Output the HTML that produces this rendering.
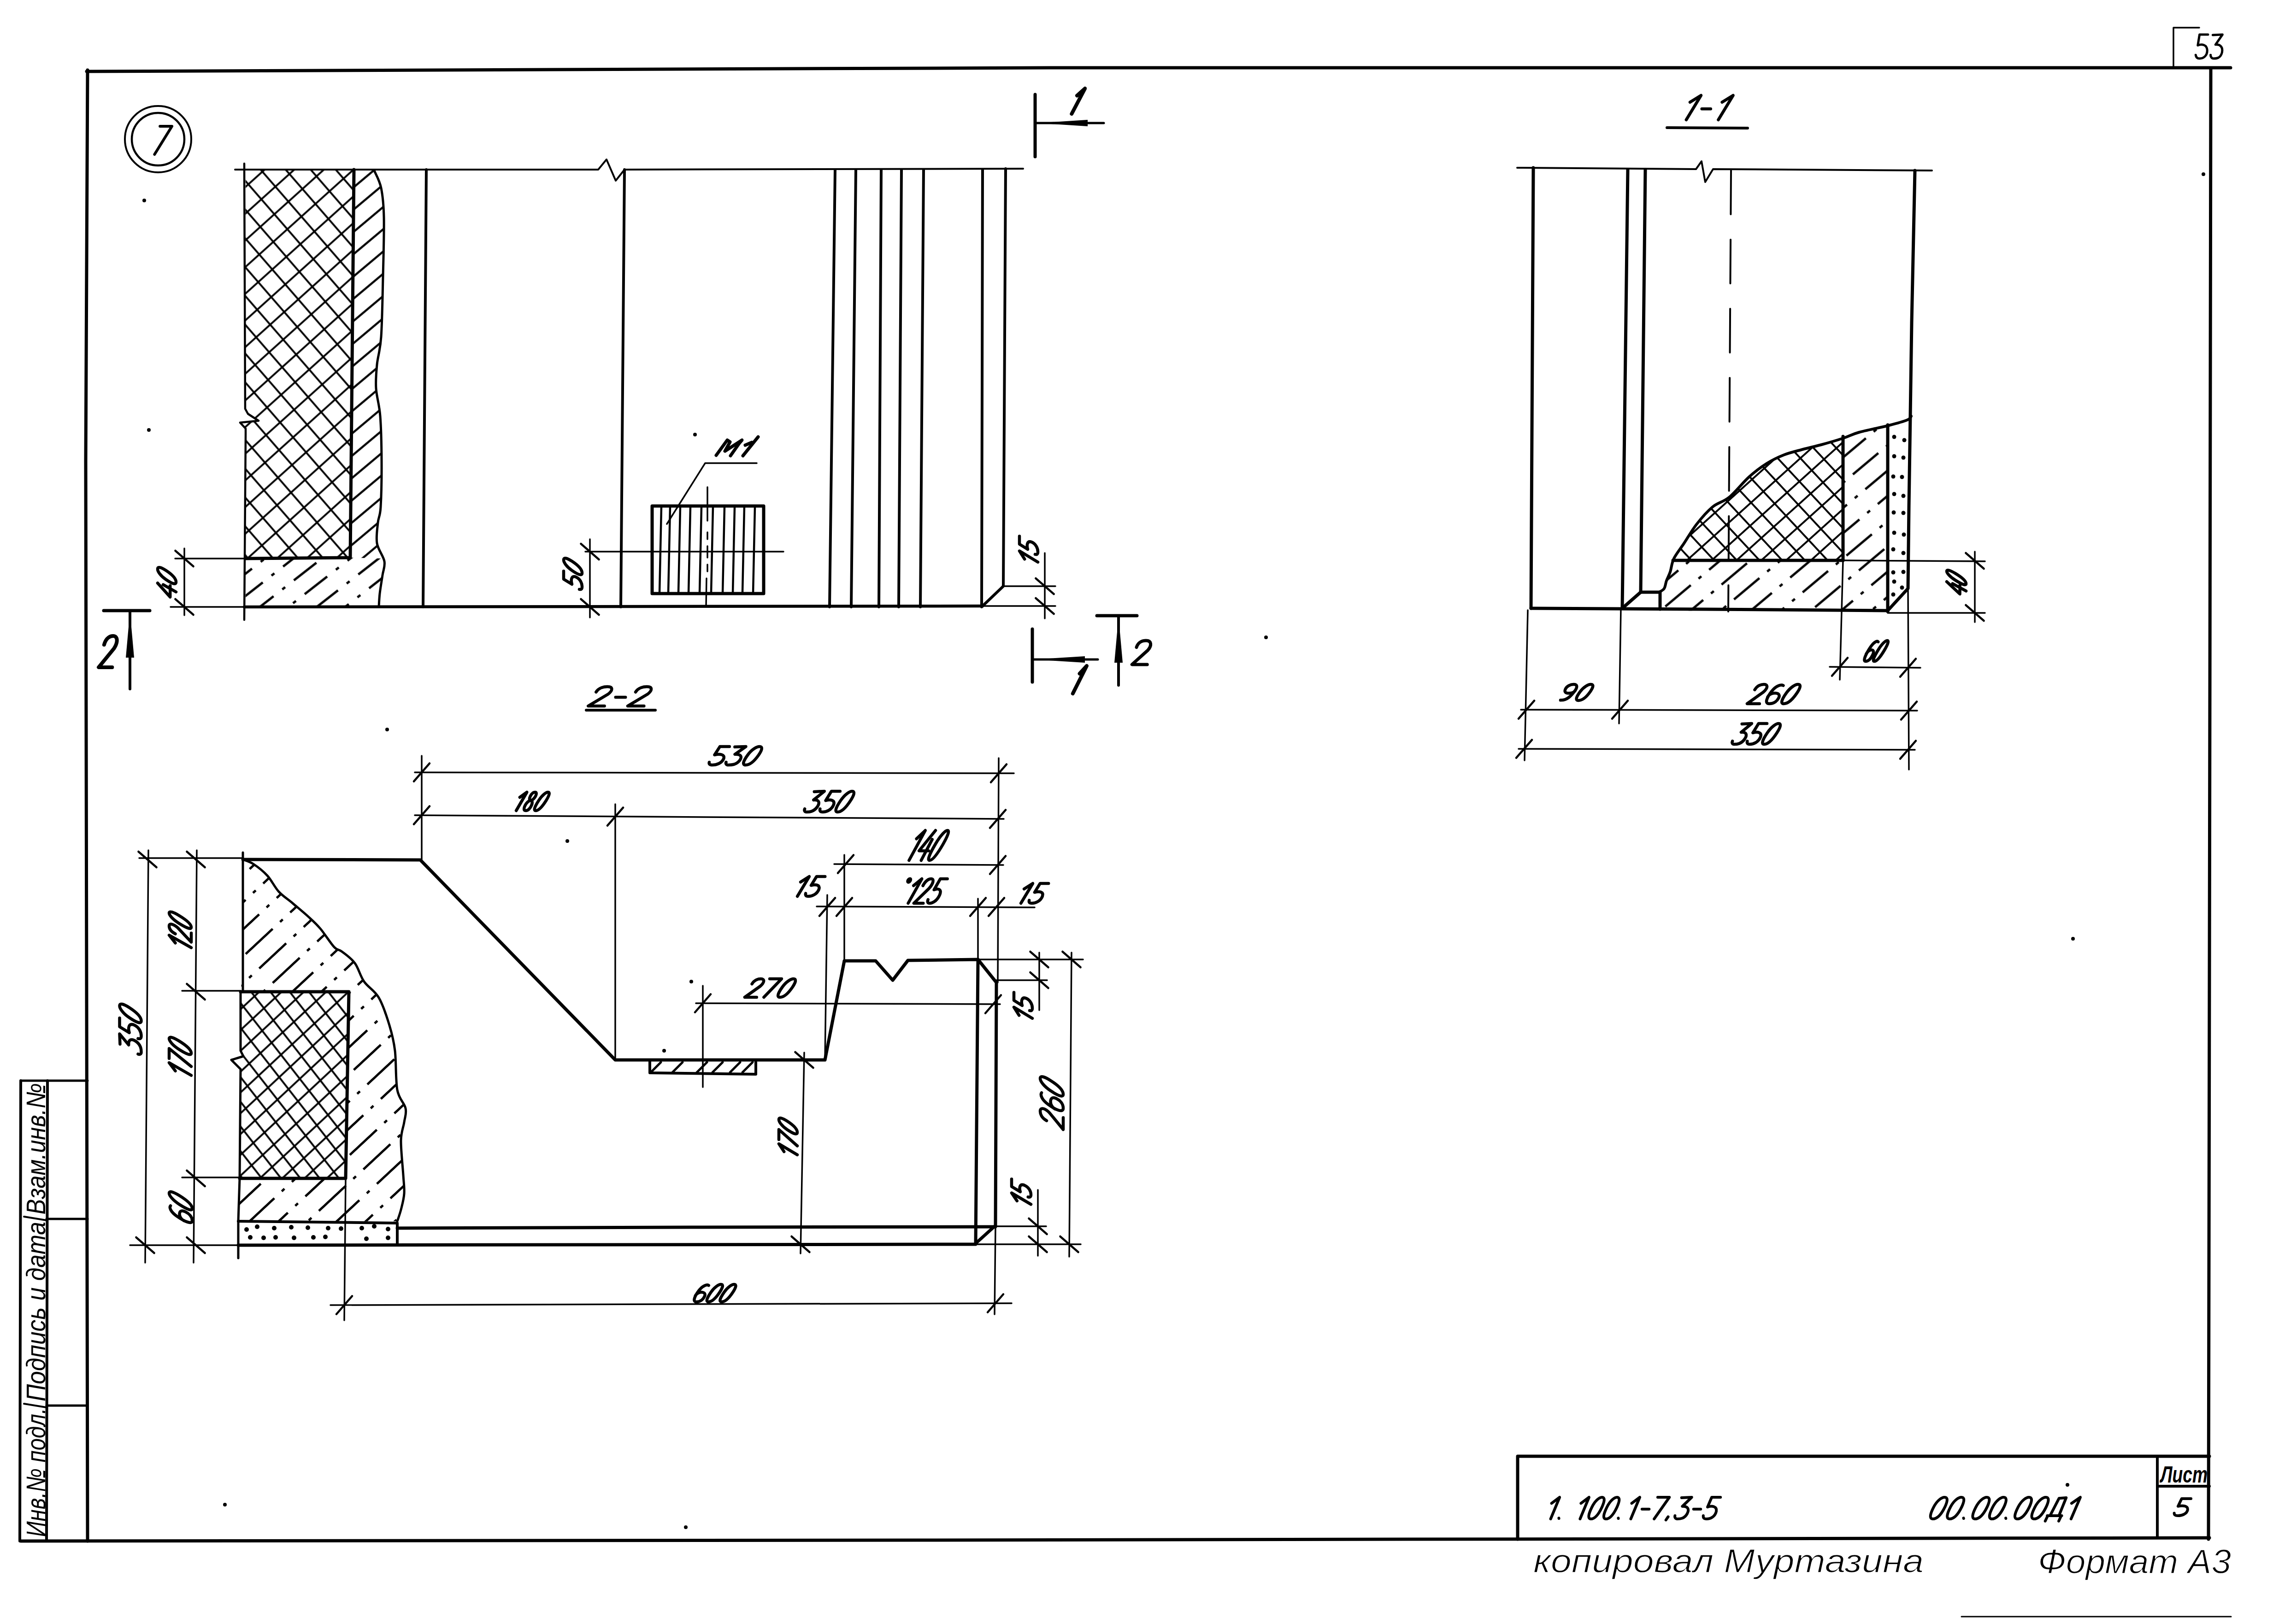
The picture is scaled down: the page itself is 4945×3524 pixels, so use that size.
<!DOCTYPE html>
<html><head><meta charset="utf-8"><style>
html,body{margin:0;padding:0;background:#fff;width:4945px;height:3524px;overflow:hidden}
svg{display:block}
.it{font-family:"Liberation Sans",sans-serif;font-style:italic;fill:#000;stroke:none}
.rg{font-family:"Liberation Sans",sans-serif;fill:#000;stroke:none}
</style></head><body>
<svg width="4945" height="3524" viewBox="0 0 4945 3524">
<rect width="4945" height="3524" fill="#fff"/>
<defs><clipPath id="c1"><polygon points="533,368 768,368 760,1210 533,1212 533,941 533,930 521,917 561,913 538,898 532,887"/></clipPath><clipPath id="c2"><polygon points="768,368 812,370 827,408 833,472 831,602 827,731 818,791 816,843 825,903 828,1000 826,1100 820,1134 818,1179 833,1212 760,1210"/></clipPath><clipPath id="c2b"><polygon points="533,1212 760,1210 833,1212 834,1218 830,1248 824,1288 822,1317 533,1317"/></clipPath><clipPath id="c3"><polygon points="522,2152 757,2152 750,2557 520,2557 522,2320 502,2300 528,2292 522,2280"/></clipPath><clipPath id="c4"><path clip-rule="evenodd" d="M527,1865 L550,1875 L580,1900 L605,1935 L635,1960 L670,1990 L695,2015 L725,2055 L742,2065 L770,2090 L790,2130 L822,2165 L845,2225 L857,2280 L862,2365 L880,2405 L877,2435 L870,2475 L875,2550 L877,2590 L870,2625 L862,2650 L517,2650 Z M522,2152 L757,2152 L750,2557 L520,2557 L522,2320 L502,2300 L528,2292 L522,2280 Z"/></clipPath><clipPath id="c5"><polygon points="3632,1212 3654,1179 3681,1138 3716,1100 3752,1079 3795,1035 3833,1006 3871,987 3912,975 3952,965 3999,951 3999,1216 3632,1216"/></clipPath><clipPath id="c6"><polygon points="3999,951 4034,938 4096,923 4096,1327 3602,1325 3600,1285 3611,1277 3616,1260 3624,1241 3632,1212 3632,1216 3999,1216"/></clipPath><pattern id="xh1a" patternUnits="userSpaceOnUse" width="43" height="43" patternTransform="translate(540 370) rotate(-42)"><path d="M0,21.5 L43,21.5" stroke-width="3.8" stroke="#000" fill="none" stroke-linecap="butt"/></pattern><pattern id="xh1b" patternUnits="userSpaceOnUse" width="41" height="41" patternTransform="translate(540 370) rotate(49)"><path d="M0,20.5 L41,20.5" stroke-width="3.8" stroke="#000" fill="none" stroke-linecap="butt"/></pattern><pattern id="h1" patternUnits="userSpaceOnUse" width="37" height="37" patternTransform="translate(770 380) rotate(-40)"><path d="M0,18.5 L37,18.5" stroke-width="4.5" stroke="#000" fill="none" stroke-linecap="butt"/></pattern><pattern id="h4" patternUnits="userSpaceOnUse" width="118" height="38" patternTransform="translate(533 1317) rotate(-38)"><path d="M0,19.0 L62,19.0 M86,19.0 L94,19.0 " stroke-width="5" stroke="#000" fill="none" stroke-linecap="butt"/></pattern><pattern id="xh2a" patternUnits="userSpaceOnUse" width="33" height="33" patternTransform="translate(530 2160) rotate(-43)"><path d="M0,16.5 L33,16.5" stroke-width="3.8" stroke="#000" fill="none" stroke-linecap="butt"/></pattern><pattern id="xh2b" patternUnits="userSpaceOnUse" width="33" height="33" patternTransform="translate(530 2160) rotate(52)"><path d="M0,16.5 L33,16.5" stroke-width="3.8" stroke="#000" fill="none" stroke-linecap="butt"/></pattern><pattern id="h2" patternUnits="userSpaceOnUse" width="132" height="43" patternTransform="translate(527 1870) rotate(-43)"><path d="M0,21.5 L80,21.5 M102,21.5 L110,21.5 " stroke-width="5" stroke="#000" fill="none" stroke-linecap="butt"/></pattern><pattern id="xh3a" patternUnits="userSpaceOnUse" width="36" height="36" patternTransform="translate(3640 1210) rotate(-42)"><path d="M0,18.0 L36,18.0" stroke-width="4" stroke="#000" fill="none" stroke-linecap="butt"/></pattern><pattern id="xh3b" patternUnits="userSpaceOnUse" width="36" height="36" patternTransform="translate(3640 1210) rotate(47)"><path d="M0,18.0 L36,18.0" stroke-width="4" stroke="#000" fill="none" stroke-linecap="butt"/></pattern><pattern id="h3" patternUnits="userSpaceOnUse" width="124" height="42" patternTransform="translate(3600 1300) rotate(-40)"><path d="M0,21.0 L72,21.0 M94,21.0 L102,21.0 " stroke-width="5" stroke="#000" fill="none" stroke-linecap="butt"/></pattern></defs>
<g stroke="#000" stroke-linecap="round" stroke-linejoin="round" fill="none">
<polyline points="188,155 1200,151 2279,147 4840,147" stroke-width="7" fill="none" />
<polyline points="190,152 186,1000 190,3344" stroke-width="7" fill="none" />
<polyline points="4797,150 4795,1500 4792,3340" stroke-width="7" fill="none" />
<polyline points="45,3344 2000,3342 4794,3337" stroke-width="7" fill="none" />
<polyline points="4716,148 4716,60 4772,60" stroke-width="3.5" fill="none" />
<path d="M0.58,0 L0.16,0 L0.1,0.45 C0.3,0.38 0.55,0.42 0.58,0.65 C0.6,0.9 0.4,1 0.22,1 C0.1,1 0.04,0.95 0.02,0.85" transform="matrix(43.7 0 -2.6 52 4765.6 75)" vector-effect="non-scaling-stroke" stroke-width="5"/>
<path d="M0.08,0.02 L0.56,0 L0.24,0.42 C0.5,0.4 0.62,0.55 0.58,0.75 C0.52,1 0.3,1.0 0.18,1 C0.08,1 0.02,0.92 0.02,0.85" transform="matrix(43.7 0 -2.6 52 4797.9 75)" vector-effect="non-scaling-stroke" stroke-width="5"/>
<polyline points="45,2345 190,2345" stroke-width="5" fill="none" />
<polyline points="45,2345 43,3344" stroke-width="6" fill="none" />
<polyline points="103,2345 101,3344" stroke-width="6" fill="none" />
<line x1="101" y1="2645" x2="190" y2="2645" stroke-width="5"/>
<line x1="101" y1="3050" x2="190" y2="3050" stroke-width="5"/>
<text x="-66.5" y="2515" font-size="58" textLength="285" lengthAdjust="spacingAndGlyphs" class="it" transform="rotate(-90 76 2493)">Взам.инв.№</text>
<text x="-119" y="2868" font-size="58" textLength="390" lengthAdjust="spacingAndGlyphs" class="it" transform="rotate(-90 76 2846)">Подпись и дата</text>
<text x="-64" y="3217" font-size="58" textLength="280" lengthAdjust="spacingAndGlyphs" class="it" transform="rotate(-90 76 3195)">Инв.№ подл.</text>
<line x1="52" y1="2640" x2="101" y2="2648" stroke-width="4"/>
<line x1="52" y1="3046" x2="101" y2="3054" stroke-width="4"/>
<circle cx="343" cy="302" r="72" stroke-width="4" fill="none"/>
<circle cx="343" cy="302" r="57" stroke-width="4.5" fill="none"/>
<path d="M0.04,0 L0.6,0 L0.18,1" transform="matrix(46.3 0 -18.3 61 345.3 274)" vector-effect="non-scaling-stroke" stroke-width="6"/>
<polyline points="510,368 1298,368 1316,346 1336,392 1355,368 2220,366" stroke-width="4" fill="none" />
<rect x="500" y="340" width="300" height="900" fill="url(#xh1a)" stroke="none" clip-path="url(#c1)"/>
<rect x="500" y="340" width="300" height="900" fill="url(#xh1b)" stroke="none" clip-path="url(#c1)"/>
<rect x="500" y="340" width="360" height="1000" fill="url(#h1)" stroke="none" clip-path="url(#c2)"/>
<rect x="500" y="1200" width="360" height="130" fill="url(#h4)" stroke="none" clip-path="url(#c2b)"/>
<polyline points="530,355 532,887 538,898 561,913 521,917 533,930 533,941 530,1345" stroke-width="4.5" fill="none" />
<polyline points="768,368 760,1210 533,1212" stroke-width="7" fill="none" />
<path d="M812,370 C814.5,376.3 823.5,391 827,408 C830.5,425 832.3,439.7 833,472 C833.7,504.3 832,558.8 831,602 C830,645.2 829.2,699.5 827,731 C824.8,762.5 819.8,772.3 818,791 C816.2,809.7 814.8,824.3 816,843 C817.2,861.7 823,876.8 825,903 C827,929.2 827.8,967.2 828,1000 C828.2,1032.8 827.3,1077.7 826,1100 C824.7,1122.3 821.3,1120.8 820,1134 C818.7,1147.2 815.7,1165 818,1179 C820.3,1193 832,1206.5 834,1218 C836,1229.5 831.7,1236.3 830,1248 C828.3,1259.7 825.3,1276.5 824,1288 C822.7,1299.5 822.3,1312.2 822,1317" stroke-width="5" fill="none"/>
<line x1="925" y1="368" x2="918" y2="1317" stroke-width="6"/>
<line x1="1355" y1="368" x2="1347" y2="1317" stroke-width="6"/>
<line x1="1812" y1="368" x2="1800" y2="1317" stroke-width="6"/>
<line x1="1857" y1="368" x2="1847" y2="1317" stroke-width="6"/>
<line x1="1912" y1="368" x2="1907" y2="1317" stroke-width="6"/>
<line x1="1956" y1="368" x2="1950" y2="1317" stroke-width="6"/>
<line x1="2004" y1="368" x2="1997" y2="1317" stroke-width="6"/>
<line x1="2132" y1="368" x2="2130" y2="1317" stroke-width="6"/>
<polyline points="2182,366 2177,1272 2132,1315" stroke-width="6" fill="none" />
<polyline points="530,1317 1400,1316 2132,1315" stroke-width="6.5" fill="none" />
<rect x="1415" y="1098" width="242" height="190" stroke-width="7" fill="none"/>
<line x1="1435" y1="1100" x2="1431" y2="1288" stroke-width="4.5"/>
<line x1="1454" y1="1100" x2="1450" y2="1288" stroke-width="4.5"/>
<line x1="1476" y1="1100" x2="1472" y2="1288" stroke-width="4.5"/>
<line x1="1498" y1="1100" x2="1494" y2="1288" stroke-width="4.5"/>
<line x1="1522" y1="1100" x2="1518" y2="1288" stroke-width="4.5"/>
<line x1="1547" y1="1100" x2="1543" y2="1288" stroke-width="4.5"/>
<line x1="1572" y1="1100" x2="1568" y2="1288" stroke-width="4.5"/>
<line x1="1594" y1="1100" x2="1590" y2="1288" stroke-width="4.5"/>
<line x1="1615" y1="1100" x2="1611" y2="1288" stroke-width="4.5"/>
<line x1="1638" y1="1100" x2="1634" y2="1288" stroke-width="4.5"/>
<line x1="1535" y1="1057" x2="1535" y2="1130" stroke-width="3.5"/>
<line x1="1535" y1="1155" x2="1535" y2="1170" stroke-width="3.5"/>
<line x1="1535" y1="1185" x2="1535" y2="1210" stroke-width="3.5"/>
<line x1="1535" y1="1225" x2="1535" y2="1240" stroke-width="3.5"/>
<line x1="1533" y1="1255" x2="1532" y2="1317" stroke-width="3.5"/>
<line x1="1270" y1="1197" x2="1700" y2="1197" stroke-width="3.5"/>
<polyline points="1447,1137 1530,1005 1642,1005" stroke-width="3.5" fill="none" />
<polyline points="1554,988 1578,955 1584,959 1573,979 1610,955 1604,962 1585,989" stroke-width="7" fill="none" />
<polyline points="1612,989 1645,948" stroke-width="7" fill="none" />
<polyline points="1617,966 1631,960" stroke-width="7" fill="none" />
<line x1="400" y1="1190" x2="400" y2="1335" stroke-width="3.5"/>
<line x1="380" y1="1212" x2="533" y2="1212" stroke-width="3.5"/>
<line x1="370" y1="1317" x2="533" y2="1317" stroke-width="3.5"/>
<line x1="380.4" y1="1195" x2="419.6" y2="1229" stroke-width="4.5"/>
<line x1="380.4" y1="1300" x2="419.6" y2="1334" stroke-width="4.5"/>
<g transform="rotate(-90 362 1265)">
<path d="M0.44,0 L0.02,0.68 L0.62,0.68 M0.5,0.3 L0.44,1" transform="matrix(41 0 -19.2 40 343.7 1245)" vector-effect="non-scaling-stroke" stroke-width="6.5"/>
<path d="M0.2,1 C0.02,1 0.02,0.75 0.08,0.45 C0.14,0.15 0.3,0 0.42,0 C0.58,0 0.6,0.2 0.56,0.45 C0.5,0.8 0.38,1 0.2,1 Z" transform="matrix(41 0 -19.2 40 374.9 1245)" vector-effect="non-scaling-stroke" stroke-width="6.5"/>
</g>
<line x1="1280" y1="1170" x2="1280" y2="1340" stroke-width="3.5"/>
<line x1="1260.5" y1="1180" x2="1299.5" y2="1214" stroke-width="4.5"/>
<line x1="1260.5" y1="1300" x2="1299.5" y2="1334" stroke-width="4.5"/>
<g transform="rotate(-90 1243 1245)">
<path d="M0.58,0 L0.16,0 L0.1,0.45 C0.3,0.38 0.55,0.42 0.58,0.65 C0.6,0.9 0.4,1 0.22,1 C0.1,1 0.04,0.95 0.02,0.85" transform="matrix(41.6 0 -19.2 40 1224.7 1225)" vector-effect="non-scaling-stroke" stroke-width="6.5"/>
<path d="M0.2,1 C0.02,1 0.02,0.75 0.08,0.45 C0.14,0.15 0.3,0 0.42,0 C0.58,0 0.6,0.2 0.56,0.45 C0.5,0.8 0.38,1 0.2,1 Z" transform="matrix(41.6 0 -19.2 40 1255.5 1225)" vector-effect="non-scaling-stroke" stroke-width="6.5"/>
</g>
<line x1="2267" y1="1200" x2="2267" y2="1342" stroke-width="3.5"/>
<line x1="2175" y1="1272" x2="2290" y2="1272" stroke-width="3.5"/>
<line x1="2132" y1="1315" x2="2290" y2="1315" stroke-width="3.5"/>
<line x1="2247.4" y1="1255" x2="2286.6" y2="1289" stroke-width="4.5"/>
<line x1="2247.4" y1="1298" x2="2286.6" y2="1332" stroke-width="4.5"/>
<g transform="rotate(-90 2232 1197)">
<path d="M0.12,0.28 L0.42,0 L0.30,1" transform="matrix(41 0 -19.2 40 2216.2 1177)" vector-effect="non-scaling-stroke" stroke-width="6.5"/>
<path d="M0.58,0 L0.16,0 L0.1,0.45 C0.3,0.38 0.55,0.42 0.58,0.65 C0.6,0.9 0.4,1 0.22,1 C0.1,1 0.04,0.95 0.02,0.85" transform="matrix(41 0 -19.2 40 2241.6 1177)" vector-effect="non-scaling-stroke" stroke-width="6.5"/>
</g>
<line x1="2246" y1="205" x2="2246" y2="340" stroke-width="7"/>
<line x1="2246" y1="267" x2="2395" y2="267" stroke-width="5"/>
<polygon points="2250,267 2360,260 2360,274" fill="#000" stroke="none"/>
<path d="M0.12,0.28 L0.42,0 L0.30,1" transform="matrix(34.5 0 -24.8 55 2339.8 192)" vector-effect="non-scaling-stroke" stroke-width="8"/>
<line x1="2240" y1="1365" x2="2240" y2="1480" stroke-width="7"/>
<line x1="2240" y1="1431" x2="2382" y2="1431" stroke-width="5"/>
<polygon points="2244,1431 2354,1424 2354,1438" fill="#000" stroke="none"/>
<path d="M0.12,0.28 L0.42,0 L0.30,1" transform="matrix(26 0 -27 60 2347 1445)" vector-effect="non-scaling-stroke" stroke-width="8"/>
<line x1="2380" y1="1336" x2="2467" y2="1336" stroke-width="7"/>
<line x1="2427" y1="1337" x2="2427" y2="1487" stroke-width="6"/>
<polygon points="2427,1338 2418,1438 2436,1438" fill="#000" stroke="none"/>
<path d="M0.06,0.28 C0.08,0.05 0.25,0 0.36,0 C0.56,0 0.62,0.2 0.5,0.4 L0.02,1 L0.58,1" transform="matrix(59 0 -10.4 52 2465.4 1390)" vector-effect="non-scaling-stroke" stroke-width="7"/>
<line x1="225" y1="1325" x2="325" y2="1325" stroke-width="7"/>
<line x1="282" y1="1325" x2="282" y2="1495" stroke-width="6"/>
<polygon points="282,1327 273,1427 291,1427" fill="#000" stroke="none"/>
<path d="M0.06,0.28 C0.08,0.05 0.25,0 0.36,0 C0.56,0 0.62,0.2 0.5,0.4 L0.02,1 L0.58,1" transform="matrix(52.3 0 -13.6 68 226.6 1380)" vector-effect="non-scaling-stroke" stroke-width="8"/>
<path d="M0.06,0.28 C0.08,0.05 0.25,0 0.36,0 C0.56,0 0.62,0.2 0.5,0.4 L0.02,1 L0.58,1" transform="matrix(63.1 0 -20.2 42 1295.2 1490)" vector-effect="non-scaling-stroke" stroke-width="6.5"/>
<path d="M0.08,0.55 L0.42,0.55" transform="matrix(63.1 0 -20.2 42 1341.8 1490)" vector-effect="non-scaling-stroke" stroke-width="6.5"/>
<path d="M0.06,0.28 C0.08,0.05 0.25,0 0.36,0 C0.56,0 0.62,0.2 0.5,0.4 L0.02,1 L0.58,1" transform="matrix(63.1 0 -20.2 42 1380.9 1490)" vector-effect="non-scaling-stroke" stroke-width="6.5"/>
<line x1="1272" y1="1541" x2="1422" y2="1541" stroke-width="6"/>
<rect x="490" y="2140" width="280" height="430" fill="url(#xh2a)" stroke="none" clip-path="url(#c3)"/>
<rect x="490" y="2140" width="280" height="430" fill="url(#xh2b)" stroke="none" clip-path="url(#c3)"/>
<rect x="500" y="1850" width="400" height="820" fill="url(#h2)" stroke="none" clip-path="url(#c4)"/>
<polyline points="527,1865 912,1866 1335,2300 1790,2300 1832,2085 1900,2085 1937,2127 1970,2084 2122,2082 2162,2132 2160,2662" stroke-width="7" fill="none" />
<path d="M527,1865 C530.8,1866.7 541.2,1869.2 550,1875 C558.8,1880.8 570.8,1890 580,1900 C589.2,1910 595.8,1925 605,1935 C614.2,1945 624.2,1950.8 635,1960 C645.8,1969.2 660,1980.8 670,1990 C680,1999.2 685.8,2004.2 695,2015 C704.2,2025.8 717.2,2046.7 725,2055 C732.8,2063.3 734.5,2059.2 742,2065 C749.5,2070.8 762,2079.2 770,2090 C778,2100.8 781.3,2117.5 790,2130 C798.7,2142.5 812.8,2149.2 822,2165 C831.2,2180.8 839.2,2205.8 845,2225 C850.8,2244.2 854.2,2256.7 857,2280 C859.8,2303.3 858.2,2344.2 862,2365 C865.8,2385.8 877.5,2393.3 880,2405 C882.5,2416.7 878.7,2423.3 877,2435 C875.3,2446.7 870.3,2455.8 870,2475 C869.7,2494.2 873.8,2530.8 875,2550 C876.2,2569.2 877.8,2577.5 877,2590 C876.2,2602.5 872.5,2615 870,2625 C867.5,2635 863.3,2645.8 862,2650" stroke-width="5" fill="none"/>
<polyline points="527,1850 527,2152" stroke-width="5" fill="none" />
<polyline points="522,2152 522,2280 528,2292 502,2300 522,2320 520,2557" stroke-width="5" fill="none" />
<polyline points="522,2152 757,2152 750,2557 520,2557" stroke-width="7" fill="none" />
<polyline points="520,2557 517,2650 517,2730" stroke-width="5" fill="none" />
<polyline points="517,2650 862,2654 862,2702" stroke-width="6" fill="none" />
<polyline points="862,2665 1500,2663 2157,2662" stroke-width="7" fill="none" />
<polyline points="517,2702 1300,2701 2115,2700 2157,2662" stroke-width="7" fill="none" />
<polyline points="2122,2082 2117,2700" stroke-width="7" fill="none" />
<circle cx="535" cy="2668" r="5" fill="#000" stroke="none"/>
<circle cx="558" cy="2662" r="5" fill="#000" stroke="none"/>
<circle cx="595" cy="2665" r="5" fill="#000" stroke="none"/>
<circle cx="632" cy="2663" r="5" fill="#000" stroke="none"/>
<circle cx="668" cy="2664" r="5" fill="#000" stroke="none"/>
<circle cx="712" cy="2665" r="5" fill="#000" stroke="none"/>
<circle cx="740" cy="2666" r="5" fill="#000" stroke="none"/>
<circle cx="785" cy="2665" r="5" fill="#000" stroke="none"/>
<circle cx="812" cy="2661" r="5" fill="#000" stroke="none"/>
<circle cx="842" cy="2667" r="5" fill="#000" stroke="none"/>
<circle cx="543" cy="2685" r="5" fill="#000" stroke="none"/>
<circle cx="572" cy="2686" r="5" fill="#000" stroke="none"/>
<circle cx="598" cy="2685" r="5" fill="#000" stroke="none"/>
<circle cx="638" cy="2686" r="5" fill="#000" stroke="none"/>
<circle cx="680" cy="2685" r="5" fill="#000" stroke="none"/>
<circle cx="706" cy="2684" r="5" fill="#000" stroke="none"/>
<circle cx="795" cy="2688" r="5" fill="#000" stroke="none"/>
<circle cx="842" cy="2686" r="5" fill="#000" stroke="none"/>
<polyline points="1410,2302 1410,2328 1640,2331 1640,2305" stroke-width="6" fill="none" />
<line x1="1412" y1="2327" x2="1434" y2="2305" stroke-width="5"/>
<line x1="1459" y1="2327" x2="1481" y2="2305" stroke-width="5"/>
<line x1="1512" y1="2327" x2="1534" y2="2305" stroke-width="5"/>
<line x1="1546" y1="2327" x2="1568" y2="2305" stroke-width="5"/>
<line x1="1584" y1="2327" x2="1606" y2="2305" stroke-width="5"/>
<line x1="1611" y1="2327" x2="1633" y2="2305" stroke-width="5"/>
<line x1="1525" y1="2139" x2="1525" y2="2359" stroke-width="3.5"/>
<line x1="900" y1="1676" x2="2200" y2="1678" stroke-width="3.5"/>
<line x1="898" y1="1695.5" x2="932" y2="1656.5" stroke-width="4.5"/>
<line x1="2150" y1="1697.5" x2="2184" y2="1658.5" stroke-width="4.5"/>
<path d="M0.58,0 L0.16,0 L0.1,0.45 C0.3,0.38 0.55,0.42 0.58,0.65 C0.6,0.9 0.4,1 0.22,1 C0.1,1 0.04,0.95 0.02,0.85" transform="matrix(49.4 0 -19.2 40 1554.2 1620)" vector-effect="non-scaling-stroke" stroke-width="6.5"/>
<path d="M0.08,0.02 L0.56,0 L0.24,0.42 C0.5,0.4 0.62,0.55 0.58,0.75 C0.52,1 0.3,1.0 0.18,1 C0.08,1 0.02,0.92 0.02,0.85" transform="matrix(49.4 0 -19.2 40 1590.8 1620)" vector-effect="non-scaling-stroke" stroke-width="6.5"/>
<path d="M0.2,1 C0.02,1 0.02,0.75 0.08,0.45 C0.14,0.15 0.3,0 0.42,0 C0.58,0 0.6,0.2 0.56,0.45 C0.5,0.8 0.38,1 0.2,1 Z" transform="matrix(49.4 0 -19.2 40 1627.3 1620)" vector-effect="non-scaling-stroke" stroke-width="6.5"/>
<line x1="915" y1="1640" x2="915" y2="1866" stroke-width="3.5"/>
<line x1="2167" y1="1645" x2="2165" y2="2132" stroke-width="3.5"/>
<line x1="900" y1="1769" x2="2178" y2="1777" stroke-width="3.5"/>
<line x1="898" y1="1788.5" x2="932" y2="1749.5" stroke-width="4.5"/>
<line x1="1318" y1="1791.5" x2="1352" y2="1752.5" stroke-width="4.5"/>
<line x1="2148" y1="1796.5" x2="2182" y2="1757.5" stroke-width="4.5"/>
<path d="M0.12,0.28 L0.42,0 L0.30,1" transform="matrix(33.6 0 -19.2 40 1129.2 1719)" vector-effect="non-scaling-stroke" stroke-width="6.5"/>
<path d="M0.3,0.45 C0.1,0.45 0.08,0.0 0.32,0 C0.56,0 0.52,0.45 0.3,0.45 C0.05,0.45 0.0,1 0.3,1 C0.6,1 0.55,0.45 0.3,0.45 Z" transform="matrix(33.6 0 -19.2 40 1150 1719)" vector-effect="non-scaling-stroke" stroke-width="6.5"/>
<path d="M0.2,1 C0.02,1 0.02,0.75 0.08,0.45 C0.14,0.15 0.3,0 0.42,0 C0.58,0 0.6,0.2 0.56,0.45 C0.5,0.8 0.38,1 0.2,1 Z" transform="matrix(33.6 0 -19.2 40 1174.9 1719)" vector-effect="non-scaling-stroke" stroke-width="6.5"/>
<path d="M0.08,0.02 L0.56,0 L0.24,0.42 C0.5,0.4 0.62,0.55 0.58,0.75 C0.52,1 0.3,1.0 0.18,1 C0.08,1 0.02,0.92 0.02,0.85" transform="matrix(44.9 0 -21.6 45 1763.6 1717)" vector-effect="non-scaling-stroke" stroke-width="6.5"/>
<path d="M0.58,0 L0.16,0 L0.1,0.45 C0.3,0.38 0.55,0.42 0.58,0.65 C0.6,0.9 0.4,1 0.22,1 C0.1,1 0.04,0.95 0.02,0.85" transform="matrix(44.9 0 -21.6 45 1796.8 1717)" vector-effect="non-scaling-stroke" stroke-width="6.5"/>
<path d="M0.2,1 C0.02,1 0.02,0.75 0.08,0.45 C0.14,0.15 0.3,0 0.42,0 C0.58,0 0.6,0.2 0.56,0.45 C0.5,0.8 0.38,1 0.2,1 Z" transform="matrix(44.9 0 -21.6 45 1830.1 1717)" vector-effect="non-scaling-stroke" stroke-width="6.5"/>
<line x1="1335" y1="1745" x2="1335" y2="2300" stroke-width="3.5"/>
<line x1="1810" y1="1875" x2="2177" y2="1877" stroke-width="3.5"/>
<line x1="1818" y1="1894.5" x2="1852" y2="1855.5" stroke-width="4.5"/>
<line x1="2148" y1="1896.5" x2="2182" y2="1857.5" stroke-width="4.5"/>
<path d="M0.12,0.28 L0.42,0 L0.30,1" transform="matrix(34.7 0 -31.2 65 1993.2 1802)" vector-effect="non-scaling-stroke" stroke-width="6.5"/>
<path d="M0.44,0 L0.02,0.68 L0.62,0.68 M0.5,0.3 L0.44,1" transform="matrix(34.7 0 -31.2 65 2014.7 1802)" vector-effect="non-scaling-stroke" stroke-width="6.5"/>
<path d="M0.2,1 C0.02,1 0.02,0.75 0.08,0.45 C0.14,0.15 0.3,0 0.42,0 C0.58,0 0.6,0.2 0.56,0.45 C0.5,0.8 0.38,1 0.2,1 Z" transform="matrix(34.7 0 -31.2 65 2041.2 1802)" vector-effect="non-scaling-stroke" stroke-width="6.5"/>
<line x1="1772" y1="1967" x2="2245" y2="1969" stroke-width="3.5"/>
<line x1="1778" y1="1987.5" x2="1812" y2="1948.5" stroke-width="4.5"/>
<line x1="1815" y1="1987.5" x2="1849" y2="1948.5" stroke-width="4.5"/>
<line x1="2105" y1="1987.5" x2="2139" y2="1948.5" stroke-width="4.5"/>
<line x1="2145" y1="1987.5" x2="2179" y2="1948.5" stroke-width="4.5"/>
<path d="M0.12,0.28 L0.42,0 L0.30,1" transform="matrix(43.8 0 -20.6 43 1737.6 1902)" vector-effect="non-scaling-stroke" stroke-width="6.5"/>
<path d="M0.58,0 L0.16,0 L0.1,0.45 C0.3,0.38 0.55,0.42 0.58,0.65 C0.6,0.9 0.4,1 0.22,1 C0.1,1 0.04,0.95 0.02,0.85" transform="matrix(43.8 0 -20.6 43 1764.8 1902)" vector-effect="non-scaling-stroke" stroke-width="6.5"/>
<path d="M0.1,0.0 C0.2,-0.02 0.22,0.12 0.12,0.14 C0.02,0.14 0.0,0.02 0.1,0.0 Z" transform="matrix(36.4 0 -25.4 53 1970.4 1907)" vector-effect="non-scaling-stroke" stroke-width="6.5"/>
<path d="M0.12,0.28 L0.42,0 L0.30,1" transform="matrix(36.4 0 -25.4 53 1985 1907)" vector-effect="non-scaling-stroke" stroke-width="6.5"/>
<path d="M0.06,0.28 C0.08,0.05 0.25,0 0.36,0 C0.56,0 0.62,0.2 0.5,0.4 L0.02,1 L0.58,1" transform="matrix(36.4 0 -25.4 53 2007.5 1907)" vector-effect="non-scaling-stroke" stroke-width="6.5"/>
<path d="M0.58,0 L0.16,0 L0.1,0.45 C0.3,0.38 0.55,0.42 0.58,0.65 C0.6,0.9 0.4,1 0.22,1 C0.1,1 0.04,0.95 0.02,0.85" transform="matrix(36.4 0 -25.4 53 2034.5 1907)" vector-effect="non-scaling-stroke" stroke-width="6.5"/>
<path d="M0.12,0.28 L0.42,0 L0.30,1" transform="matrix(43.8 0 -20.6 43 2222.6 1917)" vector-effect="non-scaling-stroke" stroke-width="6.5"/>
<path d="M0.58,0 L0.16,0 L0.1,0.45 C0.3,0.38 0.55,0.42 0.58,0.65 C0.6,0.9 0.4,1 0.22,1 C0.1,1 0.04,0.95 0.02,0.85" transform="matrix(43.8 0 -20.6 43 2249.8 1917)" vector-effect="non-scaling-stroke" stroke-width="6.5"/>
<line x1="1795" y1="1942" x2="1790" y2="2300" stroke-width="3.5"/>
<line x1="1832" y1="1855" x2="1832" y2="2085" stroke-width="3.5"/>
<line x1="2122" y1="1950" x2="2122" y2="2082" stroke-width="3.5"/>
<line x1="1510" y1="2177" x2="2170" y2="2179" stroke-width="3.5"/>
<line x1="1508" y1="2196.6" x2="1542" y2="2157.4" stroke-width="4.5"/>
<line x1="2138" y1="2198.6" x2="2172" y2="2159.4" stroke-width="4.5"/>
<path d="M0.06,0.28 C0.08,0.05 0.25,0 0.36,0 C0.56,0 0.62,0.2 0.5,0.4 L0.02,1 L0.58,1" transform="matrix(46.1 0 -19.2 40 1634.2 2124)" vector-effect="non-scaling-stroke" stroke-width="6.5"/>
<path d="M0.04,0 L0.6,0 L0.18,1" transform="matrix(46.1 0 -19.2 40 1668.3 2124)" vector-effect="non-scaling-stroke" stroke-width="6.5"/>
<path d="M0.2,1 C0.02,1 0.02,0.75 0.08,0.45 C0.14,0.15 0.3,0 0.42,0 C0.58,0 0.6,0.2 0.56,0.45 C0.5,0.8 0.38,1 0.2,1 Z" transform="matrix(46.1 0 -19.2 40 1702.4 2124)" vector-effect="non-scaling-stroke" stroke-width="6.5"/>
<line x1="1745" y1="2284" x2="1737" y2="2720" stroke-width="3.5"/>
<line x1="1725.5" y1="2283" x2="1764.5" y2="2317" stroke-width="4.5"/>
<line x1="1717.5" y1="2683" x2="1756.5" y2="2717" stroke-width="4.5"/>
<g transform="rotate(-90 1710 2470)">
<path d="M0.12,0.28 L0.42,0 L0.30,1" transform="matrix(38.7 0 -19.2 40 1681.7 2450)" vector-effect="non-scaling-stroke" stroke-width="6.5"/>
<path d="M0.04,0 L0.6,0 L0.18,1" transform="matrix(38.7 0 -19.2 40 1705.7 2450)" vector-effect="non-scaling-stroke" stroke-width="6.5"/>
<path d="M0.2,1 C0.02,1 0.02,0.75 0.08,0.45 C0.14,0.15 0.3,0 0.42,0 C0.58,0 0.6,0.2 0.56,0.45 C0.5,0.8 0.38,1 0.2,1 Z" transform="matrix(38.7 0 -19.2 40 1734.3 2450)" vector-effect="non-scaling-stroke" stroke-width="6.5"/>
</g>
<line x1="717" y1="2832" x2="2195" y2="2828" stroke-width="3.5"/>
<line x1="730" y1="2851.6" x2="764" y2="2812.4" stroke-width="4.5"/>
<line x1="2143" y1="2847.6" x2="2177" y2="2808.4" stroke-width="4.5"/>
<path d="M0.52,0.06 C0.4,0 0.2,0.05 0.12,0.35 C0.04,0.65 0.04,1 0.28,1 C0.5,1 0.58,0.85 0.58,0.7 C0.58,0.5 0.42,0.45 0.3,0.45 C0.15,0.45 0.06,0.55 0.06,0.65" transform="matrix(39.7 0 -18.2 38 1518.2 2787)" vector-effect="non-scaling-stroke" stroke-width="6.5"/>
<path d="M0.2,1 C0.02,1 0.02,0.75 0.08,0.45 C0.14,0.15 0.3,0 0.42,0 C0.58,0 0.6,0.2 0.56,0.45 C0.5,0.8 0.38,1 0.2,1 Z" transform="matrix(39.7 0 -18.2 38 1547.6 2787)" vector-effect="non-scaling-stroke" stroke-width="6.5"/>
<path d="M0.2,1 C0.02,1 0.02,0.75 0.08,0.45 C0.14,0.15 0.3,0 0.42,0 C0.58,0 0.6,0.2 0.56,0.45 C0.5,0.8 0.38,1 0.2,1 Z" transform="matrix(39.7 0 -18.2 38 1576.2 2787)" vector-effect="non-scaling-stroke" stroke-width="6.5"/>
<line x1="750" y1="2557" x2="747" y2="2865" stroke-width="3.5"/>
<line x1="2160" y1="2662" x2="2158" y2="2852" stroke-width="3.5"/>
<line x1="322" y1="1845" x2="315" y2="2740" stroke-width="3.5"/>
<line x1="300.4" y1="1848" x2="339.6" y2="1882" stroke-width="4.5"/>
<line x1="295.4" y1="2685" x2="334.6" y2="2719" stroke-width="4.5"/>
<g transform="rotate(-90 283 2233)">
<path d="M0.08,0.02 L0.56,0 L0.24,0.42 C0.5,0.4 0.62,0.55 0.58,0.75 C0.52,1 0.3,1.0 0.18,1 C0.08,1 0.02,0.92 0.02,0.85" transform="matrix(45.4 0 -22.6 47 247.1 2209.5)" vector-effect="non-scaling-stroke" stroke-width="6.5"/>
<path d="M0.58,0 L0.16,0 L0.1,0.45 C0.3,0.38 0.55,0.42 0.58,0.65 C0.6,0.9 0.4,1 0.22,1 C0.1,1 0.04,0.95 0.02,0.85" transform="matrix(45.4 0 -22.6 47 280.7 2209.5)" vector-effect="non-scaling-stroke" stroke-width="6.5"/>
<path d="M0.2,1 C0.02,1 0.02,0.75 0.08,0.45 C0.14,0.15 0.3,0 0.42,0 C0.58,0 0.6,0.2 0.56,0.45 C0.5,0.8 0.38,1 0.2,1 Z" transform="matrix(45.4 0 -22.6 47 314.3 2209.5)" vector-effect="non-scaling-stroke" stroke-width="6.5"/>
</g>
<line x1="427" y1="1845" x2="420" y2="2740" stroke-width="3.5"/>
<line x1="405.4" y1="1848" x2="444.6" y2="1882" stroke-width="4.5"/>
<line x1="405.4" y1="2135" x2="444.6" y2="2169" stroke-width="4.5"/>
<line x1="405.4" y1="2540" x2="444.6" y2="2574" stroke-width="4.5"/>
<line x1="405.4" y1="2685" x2="444.6" y2="2719" stroke-width="4.5"/>
<g transform="rotate(-90 391 2021)">
<path d="M0.12,0.28 L0.42,0 L0.30,1" transform="matrix(35.2 0 -23 48 368 1997)" vector-effect="non-scaling-stroke" stroke-width="6.5"/>
<path d="M0.06,0.28 C0.08,0.05 0.25,0 0.36,0 C0.56,0 0.62,0.2 0.5,0.4 L0.02,1 L0.58,1" transform="matrix(35.2 0 -23 48 389.9 1997)" vector-effect="non-scaling-stroke" stroke-width="6.5"/>
<path d="M0.2,1 C0.02,1 0.02,0.75 0.08,0.45 C0.14,0.15 0.3,0 0.42,0 C0.58,0 0.6,0.2 0.56,0.45 C0.5,0.8 0.38,1 0.2,1 Z" transform="matrix(35.2 0 -23 48 415.9 1997)" vector-effect="non-scaling-stroke" stroke-width="6.5"/>
</g>
<g transform="rotate(-90 391 2296)">
<path d="M0.12,0.28 L0.42,0 L0.30,1" transform="matrix(38.2 0 -23 48 365 2272)" vector-effect="non-scaling-stroke" stroke-width="6.5"/>
<path d="M0.04,0 L0.6,0 L0.18,1" transform="matrix(38.2 0 -23 48 388.8 2272)" vector-effect="non-scaling-stroke" stroke-width="6.5"/>
<path d="M0.2,1 C0.02,1 0.02,0.75 0.08,0.45 C0.14,0.15 0.3,0 0.42,0 C0.58,0 0.6,0.2 0.56,0.45 C0.5,0.8 0.38,1 0.2,1 Z" transform="matrix(38.2 0 -23 48 417.1 2272)" vector-effect="non-scaling-stroke" stroke-width="6.5"/>
</g>
<g transform="rotate(-90 392 2621)">
<path d="M0.52,0.06 C0.4,0 0.2,0.05 0.12,0.35 C0.04,0.65 0.04,1 0.28,1 C0.5,1 0.58,0.85 0.58,0.7 C0.58,0.5 0.42,0.45 0.3,0.45 C0.15,0.45 0.06,0.55 0.06,0.65" transform="matrix(40.3 0 -24 50 377 2596)" vector-effect="non-scaling-stroke" stroke-width="6.5"/>
<path d="M0.2,1 C0.02,1 0.02,0.75 0.08,0.45 C0.14,0.15 0.3,0 0.42,0 C0.58,0 0.6,0.2 0.56,0.45 C0.5,0.8 0.38,1 0.2,1 Z" transform="matrix(40.3 0 -24 50 406.8 2596)" vector-effect="non-scaling-stroke" stroke-width="6.5"/>
</g>
<line x1="302" y1="1862" x2="527" y2="1862" stroke-width="3.5"/>
<line x1="395" y1="2150" x2="522" y2="2150" stroke-width="3.5"/>
<line x1="395" y1="2555" x2="520" y2="2555" stroke-width="3.5"/>
<line x1="282" y1="2702" x2="517" y2="2702" stroke-width="3.5"/>
<line x1="2255" y1="2067" x2="2255" y2="2192" stroke-width="3.5"/>
<line x1="2235.4" y1="2065" x2="2274.6" y2="2099" stroke-width="4.5"/>
<line x1="2235.4" y1="2110" x2="2274.6" y2="2144" stroke-width="4.5"/>
<line x1="2122" y1="2082" x2="2350" y2="2082" stroke-width="3.5"/>
<line x1="2162" y1="2127" x2="2272" y2="2127" stroke-width="3.5"/>
<g transform="rotate(-90 2220 2187)">
<path d="M0.12,0.28 L0.42,0 L0.30,1" transform="matrix(41 0 -19.2 40 2204.2 2167)" vector-effect="non-scaling-stroke" stroke-width="6.5"/>
<path d="M0.58,0 L0.16,0 L0.1,0.45 C0.3,0.38 0.55,0.42 0.58,0.65 C0.6,0.9 0.4,1 0.22,1 C0.1,1 0.04,0.95 0.02,0.85" transform="matrix(41 0 -19.2 40 2229.6 2167)" vector-effect="non-scaling-stroke" stroke-width="6.5"/>
</g>
<line x1="2325" y1="2067" x2="2320" y2="2727" stroke-width="3.5"/>
<line x1="2305.4" y1="2065" x2="2344.6" y2="2099" stroke-width="4.5"/>
<line x1="2300.4" y1="2683" x2="2339.6" y2="2717" stroke-width="4.5"/>
<g transform="rotate(-90 2282 2392)">
<path d="M0.06,0.28 C0.08,0.05 0.25,0 0.36,0 C0.56,0 0.62,0.2 0.5,0.4 L0.02,1 L0.58,1" transform="matrix(46.2 0 -24 50 2246 2367)" vector-effect="non-scaling-stroke" stroke-width="6.5"/>
<path d="M0.52,0.06 C0.4,0 0.2,0.05 0.12,0.35 C0.04,0.65 0.04,1 0.28,1 C0.5,1 0.58,0.85 0.58,0.7 C0.58,0.5 0.42,0.45 0.3,0.45 C0.15,0.45 0.06,0.55 0.06,0.65" transform="matrix(46.2 0 -24 50 2280.2 2367)" vector-effect="non-scaling-stroke" stroke-width="6.5"/>
<path d="M0.2,1 C0.02,1 0.02,0.75 0.08,0.45 C0.14,0.15 0.3,0 0.42,0 C0.58,0 0.6,0.2 0.56,0.45 C0.5,0.8 0.38,1 0.2,1 Z" transform="matrix(46.2 0 -24 50 2314.3 2367)" vector-effect="non-scaling-stroke" stroke-width="6.5"/>
</g>
<line x1="2252" y1="2582" x2="2252" y2="2725" stroke-width="3.5"/>
<line x1="2232.4" y1="2644" x2="2271.6" y2="2678" stroke-width="4.5"/>
<line x1="2232.4" y1="2683" x2="2271.6" y2="2717" stroke-width="4.5"/>
<line x1="2157" y1="2661" x2="2270" y2="2661" stroke-width="3.5"/>
<line x1="2115" y1="2700" x2="2345" y2="2700" stroke-width="3.5"/>
<g transform="rotate(-90 2216 2591)">
<path d="M0.12,0.28 L0.42,0 L0.30,1" transform="matrix(38.6 0 -20.2 42 2202.2 2570)" vector-effect="non-scaling-stroke" stroke-width="6.5"/>
<path d="M0.58,0 L0.16,0 L0.1,0.45 C0.3,0.38 0.55,0.42 0.58,0.65 C0.6,0.9 0.4,1 0.22,1 C0.1,1 0.04,0.95 0.02,0.85" transform="matrix(38.6 0 -20.2 42 2226.1 2570)" vector-effect="non-scaling-stroke" stroke-width="6.5"/>
</g>
<path d="M0.12,0.28 L0.42,0 L0.30,1" transform="matrix(56.1 0 -25.4 53 3667.4 207)" vector-effect="non-scaling-stroke" stroke-width="6.5"/>
<path d="M0.08,0.55 L0.42,0.55" transform="matrix(56.1 0 -25.4 53 3702.2 207)" vector-effect="non-scaling-stroke" stroke-width="6.5"/>
<path d="M0.12,0.28 L0.42,0 L0.30,1" transform="matrix(56.1 0 -25.4 53 3737 207)" vector-effect="non-scaling-stroke" stroke-width="6.5"/>
<line x1="3617" y1="277" x2="3792" y2="278" stroke-width="6"/>
<polyline points="3292,364 3680,367 3692,350 3700,395 3717,367 4192,370" stroke-width="4" fill="none" />
<line x1="3327" y1="364" x2="3322" y2="1320" stroke-width="7"/>
<line x1="3532" y1="368" x2="3520" y2="1320" stroke-width="7"/>
<polyline points="3570,368 3560,1285 3602,1285 3602,1322" stroke-width="7" fill="none" />
<line x1="3520" y1="1320" x2="3560" y2="1285" stroke-width="7"/>
<rect x="3600" y="900" width="420" height="330" fill="url(#xh3a)" stroke="none" clip-path="url(#c5)"/>
<rect x="3600" y="900" width="420" height="330" fill="url(#xh3b)" stroke="none" clip-path="url(#c5)"/>
<rect x="3590" y="900" width="520" height="440" fill="url(#h3)" stroke="none" clip-path="url(#c6)"/>
<path d="M3600,1285 C3601.8,1283.7 3608.3,1281.2 3611,1277 C3613.7,1272.8 3613.8,1266 3616,1260 C3618.2,1254 3621.3,1249 3624,1241 C3626.7,1233 3627,1222.3 3632,1212 C3637,1201.7 3645.8,1191.3 3654,1179 C3662.2,1166.7 3670.7,1151.2 3681,1138 C3691.3,1124.8 3704.2,1109.8 3716,1100 C3727.8,1090.2 3738.8,1089.8 3752,1079 C3765.2,1068.2 3781.5,1047.2 3795,1035 C3808.5,1022.8 3820.3,1014 3833,1006 C3845.7,998 3857.8,992.2 3871,987 C3884.2,981.8 3898.5,978.7 3912,975 C3925.5,971.3 3937.5,969 3952,965 C3966.5,961 3985.3,955.5 3999,951 C4012.7,946.5 4017.3,942.7 4034,938 C4050.7,933.3 4081.5,927.5 4099,923 C4116.5,918.5 4131,914.3 4139,911 C4147,907.7 4145.7,904.3 4147,903" stroke-width="6" fill="none"/>
<polyline points="4155,370 4148,700 4145,902 4142,1100 4140,1277 4096,1325" stroke-width="7" fill="none" />
<line x1="3999" y1="947" x2="3999" y2="1216" stroke-width="7"/>
<line x1="4096" y1="922" x2="4096" y2="1327" stroke-width="7"/>
<line x1="3630" y1="1216" x2="3999" y2="1216" stroke-width="7"/>
<line x1="3999" y1="1216" x2="4307" y2="1218" stroke-width="3.5"/>
<polyline points="3322,1320 3700,1322 4096,1325" stroke-width="7" fill="none" />
<path d="M3756,370 L3750,1327" stroke-width="4" stroke-dasharray="95,55" fill="none"/>
<circle cx="4110" cy="948" r="4.5" fill="#000" stroke="none"/>
<circle cx="4132" cy="955" r="4.5" fill="#000" stroke="none"/>
<circle cx="4110" cy="990" r="4.5" fill="#000" stroke="none"/>
<circle cx="4130" cy="993" r="4.5" fill="#000" stroke="none"/>
<circle cx="4108" cy="1034" r="4.5" fill="#000" stroke="none"/>
<circle cx="4127" cy="1035" r="4.5" fill="#000" stroke="none"/>
<circle cx="4110" cy="1072" r="4.5" fill="#000" stroke="none"/>
<circle cx="4130" cy="1076" r="4.5" fill="#000" stroke="none"/>
<circle cx="4109" cy="1112" r="4.5" fill="#000" stroke="none"/>
<circle cx="4130" cy="1113" r="4.5" fill="#000" stroke="none"/>
<circle cx="4110" cy="1156" r="4.5" fill="#000" stroke="none"/>
<circle cx="4131" cy="1160" r="4.5" fill="#000" stroke="none"/>
<circle cx="4108" cy="1192" r="4.5" fill="#000" stroke="none"/>
<circle cx="4130" cy="1200" r="4.5" fill="#000" stroke="none"/>
<circle cx="4108" cy="1242" r="4.5" fill="#000" stroke="none"/>
<circle cx="4130" cy="1241" r="4.5" fill="#000" stroke="none"/>
<circle cx="4110" cy="1262" r="4.5" fill="#000" stroke="none"/>
<circle cx="4127" cy="1275" r="4.5" fill="#000" stroke="none"/>
<circle cx="4108" cy="1290" r="4.5" fill="#000" stroke="none"/>
<line x1="4285" y1="1197" x2="4285" y2="1350" stroke-width="3.5"/>
<line x1="4265.4" y1="1200" x2="4304.6" y2="1234" stroke-width="4.5"/>
<line x1="4265.4" y1="1313" x2="4304.6" y2="1347" stroke-width="4.5"/>
<line x1="4096" y1="1330" x2="4307" y2="1330" stroke-width="3.5"/>
<g transform="rotate(-90 4245 1265)">
<path d="M0.44,0 L0.02,0.68 L0.62,0.68 M0.5,0.3 L0.44,1" transform="matrix(30.8 0 -20.2 42 4234.2 1244)" vector-effect="non-scaling-stroke" stroke-width="6.5"/>
<path d="M0.2,1 C0.02,1 0.02,0.75 0.08,0.45 C0.14,0.15 0.3,0 0.42,0 C0.58,0 0.6,0.2 0.56,0.45 C0.5,0.8 0.38,1 0.2,1 Z" transform="matrix(30.8 0 -20.2 42 4257.5 1244)" vector-effect="non-scaling-stroke" stroke-width="6.5"/>
</g>
<line x1="3970" y1="1447" x2="4167" y2="1449" stroke-width="3.5"/>
<line x1="3975" y1="1466.5" x2="4009" y2="1427.5" stroke-width="4.5"/>
<line x1="4123" y1="1468.5" x2="4157" y2="1429.5" stroke-width="4.5"/>
<path d="M0.52,0.06 C0.4,0 0.2,0.05 0.12,0.35 C0.04,0.65 0.04,1 0.28,1 C0.5,1 0.58,0.85 0.58,0.7 C0.58,0.5 0.42,0.45 0.3,0.45 C0.15,0.45 0.06,0.55 0.06,0.65" transform="matrix(28.7 0 -21.6 45 4061.6 1390)" vector-effect="non-scaling-stroke" stroke-width="6.5"/>
<path d="M0.2,1 C0.02,1 0.02,0.75 0.08,0.45 C0.14,0.15 0.3,0 0.42,0 C0.58,0 0.6,0.2 0.56,0.45 C0.5,0.8 0.38,1 0.2,1 Z" transform="matrix(28.7 0 -21.6 45 4082.8 1390)" vector-effect="non-scaling-stroke" stroke-width="6.5"/>
<line x1="3300" y1="1540" x2="4160" y2="1542" stroke-width="3.5"/>
<line x1="3295" y1="1559.5" x2="3329" y2="1520.5" stroke-width="4.5"/>
<line x1="3498" y1="1559.5" x2="3532" y2="1520.5" stroke-width="4.5"/>
<line x1="4125" y1="1561.5" x2="4159" y2="1522.5" stroke-width="4.5"/>
<path d="M0.56,0.35 C0.56,0.55 0.4,0.55 0.3,0.55 C0.12,0.55 0.06,0.42 0.06,0.28 C0.06,0.1 0.2,0 0.34,0 C0.52,0 0.58,0.15 0.56,0.35 C0.5,0.7 0.4,1 0.08,0.98" transform="matrix(45.7 0 -16.8 35 3398.8 1485)" vector-effect="non-scaling-stroke" stroke-width="6.5"/>
<path d="M0.2,1 C0.02,1 0.02,0.75 0.08,0.45 C0.14,0.15 0.3,0 0.42,0 C0.58,0 0.6,0.2 0.56,0.45 C0.5,0.8 0.38,1 0.2,1 Z" transform="matrix(45.7 0 -16.8 35 3432.6 1485)" vector-effect="non-scaling-stroke" stroke-width="6.5"/>
<path d="M0.06,0.28 C0.08,0.05 0.25,0 0.36,0 C0.56,0 0.62,0.2 0.5,0.4 L0.02,1 L0.58,1" transform="matrix(48 0 -20.2 42 3810.2 1485)" vector-effect="non-scaling-stroke" stroke-width="6.5"/>
<path d="M0.52,0.06 C0.4,0 0.2,0.05 0.12,0.35 C0.04,0.65 0.04,1 0.28,1 C0.5,1 0.58,0.85 0.58,0.7 C0.58,0.5 0.42,0.45 0.3,0.45 C0.15,0.45 0.06,0.55 0.06,0.65" transform="matrix(48 0 -20.2 42 3845.7 1485)" vector-effect="non-scaling-stroke" stroke-width="6.5"/>
<path d="M0.2,1 C0.02,1 0.02,0.75 0.08,0.45 C0.14,0.15 0.3,0 0.42,0 C0.58,0 0.6,0.2 0.56,0.45 C0.5,0.8 0.38,1 0.2,1 Z" transform="matrix(48 0 -20.2 42 3881.2 1485)" vector-effect="non-scaling-stroke" stroke-width="6.5"/>
<line x1="3295" y1="1625" x2="4155" y2="1627" stroke-width="3.5"/>
<line x1="3290" y1="1644.5" x2="3324" y2="1605.5" stroke-width="4.5"/>
<line x1="4123" y1="1646.5" x2="4157" y2="1607.5" stroke-width="4.5"/>
<path d="M0.08,0.02 L0.56,0 L0.24,0.42 C0.5,0.4 0.62,0.55 0.58,0.75 C0.52,1 0.3,1.0 0.18,1 C0.08,1 0.02,0.92 0.02,0.85" transform="matrix(43.5 0 -21.6 45 3776.6 1570)" vector-effect="non-scaling-stroke" stroke-width="6.5"/>
<path d="M0.58,0 L0.16,0 L0.1,0.45 C0.3,0.38 0.55,0.42 0.58,0.65 C0.6,0.9 0.4,1 0.22,1 C0.1,1 0.04,0.95 0.02,0.85" transform="matrix(43.5 0 -21.6 45 3808.8 1570)" vector-effect="non-scaling-stroke" stroke-width="6.5"/>
<path d="M0.2,1 C0.02,1 0.02,0.75 0.08,0.45 C0.14,0.15 0.3,0 0.42,0 C0.58,0 0.6,0.2 0.56,0.45 C0.5,0.8 0.38,1 0.2,1 Z" transform="matrix(43.5 0 -21.6 45 3840.9 1570)" vector-effect="non-scaling-stroke" stroke-width="6.5"/>
<line x1="3315" y1="1324" x2="3308" y2="1650" stroke-width="3.5"/>
<line x1="3517" y1="1320" x2="3513" y2="1570" stroke-width="3.5"/>
<line x1="3999" y1="1216" x2="3992" y2="1475" stroke-width="3.5"/>
<line x1="4140" y1="1277" x2="4142" y2="1670" stroke-width="3.5"/>
<polyline points="3293,3340 3293,3160 4794,3160" stroke-width="7" fill="none" />
<line x1="4681" y1="3160" x2="4681" y2="3337" stroke-width="6"/>
<line x1="4681" y1="3225" x2="4794" y2="3225" stroke-width="6"/>
<path d="M0.12,0.28 L0.42,0 L0.30,1" transform="matrix(45.3 0 -14.1 47 3365.1 3249)" vector-effect="non-scaling-stroke" stroke-width="6"/>
<path d="M0.06,0.96 L0.07,0.98" transform="matrix(45.3 0 -14.1 47 3393.2 3249)" vector-effect="non-scaling-stroke" stroke-width="6"/>
<path d="M0.12,0.28 L0.42,0 L0.30,1" transform="matrix(45.3 0 -14.1 47 3428.9 3249)" vector-effect="non-scaling-stroke" stroke-width="6"/>
<path d="M0.2,1 C0.02,1 0.02,0.75 0.08,0.45 C0.14,0.15 0.3,0 0.42,0 C0.58,0 0.6,0.2 0.56,0.45 C0.5,0.8 0.38,1 0.2,1 Z" transform="matrix(45.3 0 -14.1 47 3457 3249)" vector-effect="non-scaling-stroke" stroke-width="6"/>
<path d="M0.2,1 C0.02,1 0.02,0.75 0.08,0.45 C0.14,0.15 0.3,0 0.42,0 C0.58,0 0.6,0.2 0.56,0.45 C0.5,0.8 0.38,1 0.2,1 Z" transform="matrix(45.3 0 -14.1 47 3489.6 3249)" vector-effect="non-scaling-stroke" stroke-width="6"/>
<path d="M0.06,0.96 L0.07,0.98" transform="matrix(45.3 0 -14.1 47 3522.2 3249)" vector-effect="non-scaling-stroke" stroke-width="6"/>
<path d="M0.12,0.28 L0.42,0 L0.30,1" transform="matrix(45.3 0 -14.1 47 3539 3249)" vector-effect="non-scaling-stroke" stroke-width="6"/>
<path d="M0.08,0.55 L0.42,0.55" transform="matrix(45.3 0 -14.1 47 3567 3249)" vector-effect="non-scaling-stroke" stroke-width="6"/>
<path d="M0.04,0 L0.6,0 L0.18,1" transform="matrix(45.3 0 -14.1 47 3595.1 3249)" vector-effect="non-scaling-stroke" stroke-width="6"/>
<path d="M0.08,0.9 L0.02,1.05" transform="matrix(45.3 0 -14.1 47 3628.6 3249)" vector-effect="non-scaling-stroke" stroke-width="6"/>
<path d="M0.08,0.02 L0.56,0 L0.24,0.42 C0.5,0.4 0.62,0.55 0.58,0.75 C0.52,1 0.3,1.0 0.18,1 C0.08,1 0.02,0.92 0.02,0.85" transform="matrix(45.3 0 -14.1 47 3645.4 3249)" vector-effect="non-scaling-stroke" stroke-width="6"/>
<path d="M0.08,0.55 L0.42,0.55" transform="matrix(45.3 0 -14.1 47 3678.9 3249)" vector-effect="non-scaling-stroke" stroke-width="6"/>
<path d="M0.58,0 L0.16,0 L0.1,0.45 C0.3,0.38 0.55,0.42 0.58,0.65 C0.6,0.9 0.4,1 0.22,1 C0.1,1 0.04,0.95 0.02,0.85" transform="matrix(45.3 0 -14.1 47 3706.9 3249)" vector-effect="non-scaling-stroke" stroke-width="6"/>
<path d="M0.2,1 C0.02,1 0.02,0.75 0.08,0.45 C0.14,0.15 0.3,0 0.42,0 C0.58,0 0.6,0.2 0.56,0.45 C0.5,0.8 0.38,1 0.2,1 Z" transform="matrix(50.6 0 -14.1 47 4198.1 3249)" vector-effect="non-scaling-stroke" stroke-width="6"/>
<path d="M0.2,1 C0.02,1 0.02,0.75 0.08,0.45 C0.14,0.15 0.3,0 0.42,0 C0.58,0 0.6,0.2 0.56,0.45 C0.5,0.8 0.38,1 0.2,1 Z" transform="matrix(50.6 0 -14.1 47 4234.5 3249)" vector-effect="non-scaling-stroke" stroke-width="6"/>
<path d="M0.06,0.96 L0.07,0.98" transform="matrix(50.6 0 -14.1 47 4271 3249)" vector-effect="non-scaling-stroke" stroke-width="6"/>
<path d="M0.2,1 C0.02,1 0.02,0.75 0.08,0.45 C0.14,0.15 0.3,0 0.42,0 C0.58,0 0.6,0.2 0.56,0.45 C0.5,0.8 0.38,1 0.2,1 Z" transform="matrix(50.6 0 -14.1 47 4289.7 3249)" vector-effect="non-scaling-stroke" stroke-width="6"/>
<path d="M0.2,1 C0.02,1 0.02,0.75 0.08,0.45 C0.14,0.15 0.3,0 0.42,0 C0.58,0 0.6,0.2 0.56,0.45 C0.5,0.8 0.38,1 0.2,1 Z" transform="matrix(50.6 0 -14.1 47 4326.2 3249)" vector-effect="non-scaling-stroke" stroke-width="6"/>
<path d="M0.06,0.96 L0.07,0.98" transform="matrix(50.6 0 -14.1 47 4362.6 3249)" vector-effect="non-scaling-stroke" stroke-width="6"/>
<path d="M0.2,1 C0.02,1 0.02,0.75 0.08,0.45 C0.14,0.15 0.3,0 0.42,0 C0.58,0 0.6,0.2 0.56,0.45 C0.5,0.8 0.38,1 0.2,1 Z" transform="matrix(50.6 0 -14.1 47 4381.3 3249)" vector-effect="non-scaling-stroke" stroke-width="6"/>
<path d="M0.2,1 C0.02,1 0.02,0.75 0.08,0.45 C0.14,0.15 0.3,0 0.42,0 C0.58,0 0.6,0.2 0.56,0.45 C0.5,0.8 0.38,1 0.2,1 Z" transform="matrix(50.6 0 -14.1 47 4417.8 3249)" vector-effect="non-scaling-stroke" stroke-width="6"/>
<path d="M0.12,0.85 L0.28,0.05 L0.58,0.02 L0.5,0.85 M0.0,0.85 L0.62,0.85 M0.02,0.85 L-0.02,1.1 M0.6,0.85 L0.56,1.1" transform="matrix(50.6 0 -14.1 47 4454.2 3249)" vector-effect="non-scaling-stroke" stroke-width="6"/>
<path d="M0.12,0.28 L0.42,0 L0.30,1" transform="matrix(50.6 0 -14.1 47 4492.7 3249)" vector-effect="non-scaling-stroke" stroke-width="6"/>
<text x="4688" y="3217" font-size="50" textLength="102" lengthAdjust="spacingAndGlyphs" class="it" font-weight="bold">Лист</text>
<path d="M0.58,0 L0.16,0 L0.1,0.45 C0.3,0.38 0.55,0.42 0.58,0.65 C0.6,0.9 0.4,1 0.22,1 C0.1,1 0.04,0.95 0.02,0.85" transform="matrix(48.2 0 -11.1 37 4726.1 3252)" vector-effect="non-scaling-stroke" stroke-width="6"/>
<text x="3327" y="3412" font-size="72" textLength="847" lengthAdjust="spacingAndGlyphs" class="it" style="stroke:#fff;stroke-width:1.5px" >копировал Муртазина</text>
<text x="4422" y="3414" font-size="74" textLength="419" lengthAdjust="spacingAndGlyphs" class="it" style="stroke:#fff;stroke-width:1.5px" >Формат А3</text>
<line x1="4256" y1="3508" x2="4841" y2="3508" stroke-width="3"/>
<circle cx="313" cy="435" r="4" fill="#000" stroke="none"/>
<circle cx="323" cy="933" r="4" fill="#000" stroke="none"/>
<circle cx="840" cy="1583" r="4" fill="#000" stroke="none"/>
<circle cx="1508" cy="943" r="4" fill="#000" stroke="none"/>
<circle cx="2747" cy="1383" r="4" fill="#000" stroke="none"/>
<circle cx="4781" cy="378" r="4" fill="#000" stroke="none"/>
<circle cx="4498" cy="2037" r="4" fill="#000" stroke="none"/>
<circle cx="4486" cy="3222" r="4" fill="#000" stroke="none"/>
<circle cx="1231" cy="1825" r="4" fill="#000" stroke="none"/>
<circle cx="488" cy="3265" r="4" fill="#000" stroke="none"/>
<circle cx="1488" cy="3314" r="4" fill="#000" stroke="none"/>
<circle cx="1500" cy="2130" r="4" fill="#000" stroke="none"/>
<circle cx="1441" cy="2280" r="4" fill="#000" stroke="none"/>
</g>
</svg>
</body></html>
